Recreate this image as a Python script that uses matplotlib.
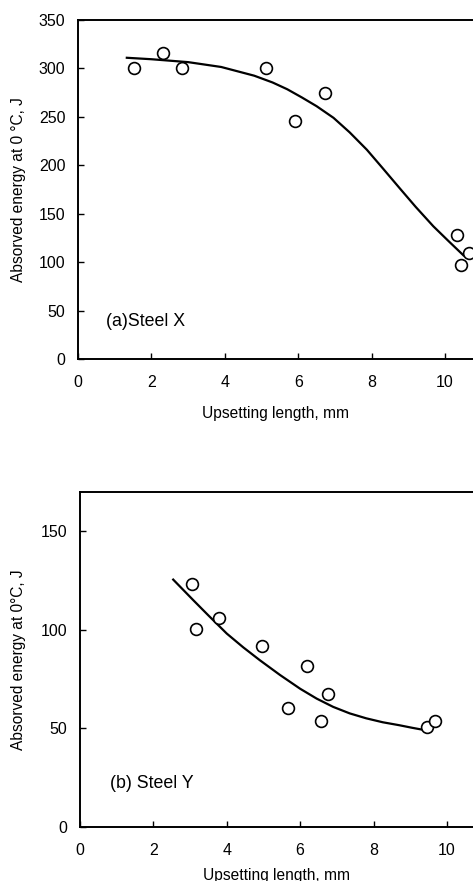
import matplotlib
matplotlib.use("Agg")
import matplotlib.pyplot as plt

plt.rcParams['font.family'] = ['Liberation Sans', 'DejaVu Sans']

# (a) Steel X
x_a = [1.53, 2.32, 2.83, 5.13, 5.92, 6.73, 10.32, 10.42, 10.64]
y_a = [300, 316, 300, 300, 246, 275, 128, 97, 109]
fit_xa = [1.33, 2.0, 3.0, 3.9, 4.8, 5.3, 5.7, 6.1, 6.5, 6.96, 7.4, 7.87, 8.3, 8.77, 9.2, 9.68, 10.1, 10.5]
fit_ya = [311, 309.5, 306.5, 301.5, 292.5, 285.5, 278.5, 270, 261, 249, 234, 216, 197, 176, 157, 137, 121.5, 107]

# (b) Steel Y
x_b = [3.05, 3.16, 3.78, 4.96, 5.67, 6.18, 6.56, 6.76, 9.47, 9.68]
y_b = [123, 100.3, 105.9, 91.6, 60.3, 81.6, 53.4, 67.2, 50.5, 53.5]
fit_xb = [2.54, 3.09, 3.5, 4.0, 4.45, 4.9, 5.45, 6.0, 6.45, 6.9, 7.35, 7.8, 8.25, 8.7, 9.05, 9.4]
fit_yb = [125.4, 114.9, 107.2, 98, 91, 84.5, 77, 70, 65, 60.8, 57.5, 55, 53, 51.5, 50.2, 49]

xticks = [0, 2, 4, 6, 8, 10]
ylabel_a = "Absorved energy at 0 \u00b0C, J"
ylabel_b = "Absorved energy at 0\u00b0C, J"
xlabel = "Upsetting length, mm"

fig = plt.figure(figsize=(4.73, 8.81), dpi=100)

ax1 = fig.add_axes([78/473, 1 - 359/881, 1 - 78/473, (359 - 20)/881])
ax2 = fig.add_axes([80/473, 1 - 826.7/881, 1 - 80/473, (826.7 - 491.7)/881])

panels = [
    (ax1, x_a, y_a, fit_xa, fit_ya, (0, 350), [0, 50, 100, 150, 200, 250, 300, 350],
     ylabel_a, "(a)Steel X", (0.75, 39), 10.76),
    (ax2, x_b, y_b, fit_xb, fit_yb, (0, 170), [0, 50, 100, 150],
     ylabel_b, "(b) Steel Y", (0.82, 22), 10.71),
]

for ax, xs, ys, fx, fy, ylim, yticks, ylab, tag, tagpos, xmax in panels:
    ax.plot(fx, fy, color='black', lw=1.6)
    ax.plot(xs, ys, 'o', mfc='white', mec='black', ms=8.5, mew=1.2, clip_on=False)
    ax.set_xlim(0, xmax)
    ax.set_ylim(*ylim)
    ax.set_xticks(xticks)
    ax.set_yticks(yticks)
    ax.tick_params(direction='in', length=4, width=1, labelsize=11.5)
    ax.tick_params(axis='x', pad=11.5)
    ax.tick_params(axis='y', pad=9)
    for s in ['left', 'bottom', 'top']:
        ax.spines[s].set_linewidth(1.4)
    ax.spines['right'].set_visible(False)
    ax.set_ylabel(ylab, fontsize=11.2)
    ax.set_xlabel(xlabel, fontsize=11.2)
    ax.text(tagpos[0], tagpos[1], tag, fontsize=12.8, va='center', ha='left')

ax1.yaxis.set_label_coords(-0.132, 0.5)
ax1.xaxis.set_label_coords(0.5, -0.139)
ax2.yaxis.set_label_coords(-0.137, 0.5)
ax2.xaxis.set_label_coords(0.5, -0.123)

fig.savefig("out.png", dpi=100)
